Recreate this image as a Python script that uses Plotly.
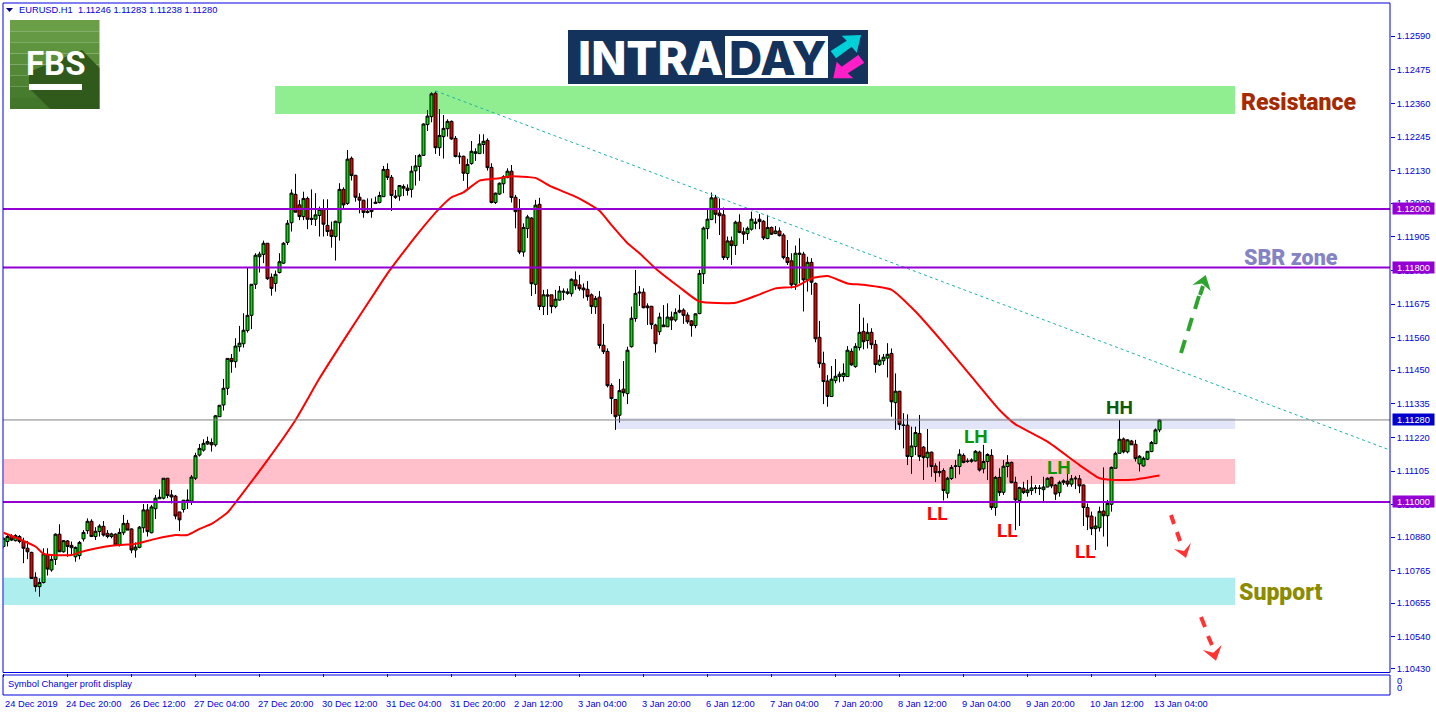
import plotly.graph_objects as go

# EURUSD H1 candles, one per bar
opens = [
    1.10848, 1.10865, 1.10882, 1.10868, 1.10882, 1.10865, 1.10842, 1.10828, 1.10743, 1.10711,
    1.10725, 1.10819, 1.10768, 1.10804, 1.10890, 1.10830, 1.10867, 1.10852, 1.10813, 1.10817,
    1.10874, 1.10902, 1.10934, 1.10882, 1.10899, 1.10917, 1.10893, 1.10882, 1.10890, 1.10853,
    1.10895, 1.10927, 1.10908, 1.10836, 1.10845, 1.10912, 1.10973, 1.10895, 1.10977, 1.11011,
    1.11013, 1.11081, 1.11024, 1.11020, 1.10966, 1.10974, 1.11003, 1.11003, 1.11081, 1.11160,
    1.11177, 1.11198, 1.11203, 1.11195, 1.11291, 1.11331, 1.11388, 1.11490, 1.11479, 1.11530,
    1.11540, 1.11585, 1.11637, 1.11743, 1.11837, 1.11845, 1.11883, 1.11767, 1.11746, 1.11783,
    1.11815, 1.11886, 1.11953, 1.12050, 1.12014, 1.11974, 1.12036, 1.11968, 1.11965, 1.11978,
    1.11999, 1.11944, 1.11928, 1.11906, 1.11953, 1.12067, 1.12019, 1.12173, 1.12115, 1.12040,
    1.12030, 1.11992, 1.11991, 1.12019, 1.12022, 1.12042, 1.12135, 1.12108, 1.12044, 1.12044,
    1.12077, 1.12071, 1.12067, 1.12130, 1.12145, 1.12183, 1.12288, 1.12315, 1.12395, 1.12209,
    1.12247, 1.12274, 1.12299, 1.12241, 1.12178, 1.12180, 1.12121, 1.12155, 1.12190, 1.12189,
    1.12220, 1.12234, 1.12142, 1.12022, 1.12051, 1.12086, 1.12107, 1.12129, 1.12040, 1.11997,
    1.11853, 1.11933, 1.11969, 1.11743, 1.12016, 1.11667, 1.11707, 1.11707, 1.11667, 1.11689,
    1.11716, 1.11712, 1.11711, 1.11758, 1.11741, 1.11730, 1.11726, 1.11707, 1.11666, 1.11699,
    1.11535, 1.11514, 1.11398, 1.11350, 1.11296, 1.11385, 1.11370, 1.11530, 1.11626, 1.11713,
    1.11716, 1.11669, 1.11668, 1.11604, 1.11581, 1.11604, 1.11598, 1.11631, 1.11621, 1.11654,
    1.11655, 1.11638, 1.11618, 1.11602, 1.11643, 1.11779, 1.11933, 1.11964, 1.12038, 1.11986,
    1.11980, 1.11834, 1.11891, 1.11875, 1.11955, 1.11922, 1.11916, 1.11931, 1.11951, 1.11965,
    1.11958, 1.11899, 1.11937, 1.11916, 1.11925, 1.11911, 1.11834, 1.11823, 1.11743, 1.11845,
    1.11846, 1.11758, 1.11818, 1.11746, 1.11562, 1.11473, 1.11413, 1.11360, 1.11414, 1.11428,
    1.11428, 1.11428, 1.11514, 1.11462, 1.11527, 1.11582, 1.11551, 1.11579, 1.11538, 1.11468,
    1.11482, 1.11491, 1.11507, 1.11339, 1.11378, 1.11263, 1.11262, 1.11155, 1.11189, 1.11234,
    1.11187, 1.11151, 1.11170, 1.11123, 1.11104, 1.11107, 1.11030, 1.11080, 1.11121, 1.11121,
    1.11159, 1.11140, 1.11139, 1.11140, 1.11170, 1.11113, 1.11138, 1.11159, 1.10981, 1.11084,
    1.11033, 1.11121, 1.11135, 1.11067, 1.11005, 1.11047, 1.11032, 1.11039, 1.11046, 1.11048,
    1.11042, 1.11051, 1.11084, 1.11058, 1.11032, 1.11067, 1.11071, 1.11061, 1.11079, 1.11079,
    1.11058, 1.10981, 1.10952, 1.10909, 1.10912, 1.10969, 1.10953, 1.10992, 1.11115, 1.11166,
    1.11215, 1.11171, 1.11208, 1.11197, 1.11130, 1.11123, 1.11146, 1.11172, 1.11199, 1.11246,
]
closes = [
    1.10876, 1.10882, 1.10870, 1.10885, 1.10865, 1.10842, 1.10830, 1.10739, 1.10711, 1.10725,
    1.10823, 1.10771, 1.10804, 1.10890, 1.10830, 1.10868, 1.10848, 1.10844, 1.10845, 1.10862,
    1.10896, 1.10934, 1.10882, 1.10900, 1.10918, 1.10887, 1.10882, 1.10891, 1.10853, 1.10896,
    1.10927, 1.10904, 1.10836, 1.10846, 1.10914, 1.10973, 1.10899, 1.10983, 1.11013, 1.11016,
    1.11081, 1.11022, 1.11017, 1.10952, 1.10939, 1.11006, 1.11006, 1.11085, 1.11158, 1.11183,
    1.11200, 1.11206, 1.11195, 1.11294, 1.11330, 1.11388, 1.11490, 1.11479, 1.11532, 1.11542,
    1.11586, 1.11637, 1.11743, 1.11842, 1.11846, 1.11883, 1.11762, 1.11729, 1.11777, 1.11820,
    1.11883, 1.11951, 1.12054, 1.11989, 1.11974, 1.12036, 1.11965, 1.11964, 1.11980, 1.11999,
    1.11948, 1.11923, 1.11906, 1.11958, 1.12067, 1.12014, 1.12170, 1.12114, 1.12040, 1.12030,
    1.11988, 1.11988, 1.11997, 1.12023, 1.12046, 1.12135, 1.12108, 1.12046, 1.12040, 1.12080,
    1.12071, 1.12063, 1.12129, 1.12147, 1.12183, 1.12290, 1.12317, 1.12393, 1.12209, 1.12251,
    1.12275, 1.12299, 1.12239, 1.12179, 1.12180, 1.12122, 1.12152, 1.12197, 1.12195, 1.12222,
    1.12231, 1.12141, 1.12022, 1.12054, 1.12088, 1.12110, 1.12129, 1.12039, 1.11991, 1.11853,
    1.11937, 1.11973, 1.11745, 1.12013, 1.11667, 1.11707, 1.11703, 1.11667, 1.11692, 1.11720,
    1.11719, 1.11717, 1.11760, 1.11738, 1.11728, 1.11724, 1.11701, 1.11667, 1.11695, 1.11534,
    1.11513, 1.11397, 1.11353, 1.11291, 1.11380, 1.11373, 1.11518, 1.11627, 1.11712, 1.11716,
    1.11663, 1.11663, 1.11606, 1.11540, 1.11631, 1.11598, 1.11631, 1.11621, 1.11647, 1.11648,
    1.11637, 1.11615, 1.11602, 1.11642, 1.11780, 1.11935, 1.11965, 1.12038, 1.11982, 1.11977,
    1.11834, 1.11891, 1.11875, 1.11955, 1.11920, 1.11914, 1.11934, 1.11965, 1.11955, 1.11957,
    1.11901, 1.11937, 1.11914, 1.11925, 1.11909, 1.11834, 1.11817, 1.11741, 1.11849, 1.11849,
    1.11758, 1.11818, 1.11750, 1.11557, 1.11472, 1.11411, 1.11360, 1.11419, 1.11429, 1.11436,
    1.11439, 1.11518, 1.11468, 1.11531, 1.11579, 1.11547, 1.11579, 1.11537, 1.11469, 1.11484,
    1.11494, 1.11504, 1.11342, 1.11378, 1.11264, 1.11261, 1.11155, 1.11191, 1.11237, 1.11155,
    1.11151, 1.11170, 1.11121, 1.11100, 1.11100, 1.11039, 1.11081, 1.11118, 1.11123, 1.11163,
    1.11135, 1.11138, 1.11143, 1.11173, 1.11109, 1.11138, 1.11162, 1.10981, 1.11084, 1.11032,
    1.11122, 1.11135, 1.11066, 1.11007, 1.11049, 1.11032, 1.11041, 1.11048, 1.11048, 1.11046,
    1.11051, 1.11081, 1.11055, 1.11027, 1.11067, 1.11072, 1.11061, 1.11079, 1.11081, 1.11055,
    1.10981, 1.10949, 1.10909, 1.10918, 1.10968, 1.10953, 1.10995, 1.11118, 1.11166, 1.11214,
    1.11171, 1.11212, 1.11195, 1.11148, 1.11156, 1.11149, 1.11173, 1.11203, 1.11246, 1.11280,
]
highs = [
    1.10880, 1.10887, 1.10890, 1.10890, 1.10887, 1.10878, 1.10867, 1.10830, 1.10760, 1.10739,
    1.10842, 1.10842, 1.10819, 1.10893, 1.10924, 1.10870, 1.10870, 1.10865, 1.10848, 1.10867,
    1.10904, 1.10944, 1.10941, 1.10914, 1.10924, 1.10935, 1.10904, 1.10895, 1.10893, 1.10910,
    1.10956, 1.10939, 1.10910, 1.10862, 1.10918, 1.10993, 1.10993, 1.10990, 1.11024, 1.11043,
    1.11081, 1.11081, 1.11041, 1.11024, 1.10966, 1.11007, 1.11043, 1.11092, 1.11168, 1.11198,
    1.11214, 1.11223, 1.11217, 1.11297, 1.11330, 1.11420, 1.11490, 1.11505, 1.11559, 1.11601,
    1.11644, 1.11801, 1.11743, 1.11849, 1.11854, 1.11892, 1.11883, 1.11780, 1.11790, 1.11849,
    1.11887, 1.11962, 1.12067, 1.12120, 1.12031, 1.12059, 1.12042, 1.12067, 1.12054, 1.12008,
    1.12033, 1.12033, 1.11957, 1.11960, 1.12088, 1.12074, 1.12201, 1.12179, 1.12116, 1.12054,
    1.12031, 1.12036, 1.12036, 1.12042, 1.12059, 1.12147, 1.12156, 1.12116, 1.12065, 1.12080,
    1.12084, 1.12084, 1.12147, 1.12184, 1.12188, 1.12292, 1.12338, 1.12398, 1.12401, 1.12341,
    1.12321, 1.12306, 1.12302, 1.12249, 1.12193, 1.12182, 1.12171, 1.12232, 1.12207, 1.12255,
    1.12255, 1.12241, 1.12156, 1.12056, 1.12090, 1.12115, 1.12139, 1.12150, 1.12048, 1.12034,
    1.11951, 1.11980, 1.11972, 1.12031, 1.12038, 1.11724, 1.11726, 1.11707, 1.11724, 1.11737,
    1.11729, 1.11729, 1.11763, 1.11787, 1.11775, 1.11746, 1.11754, 1.11712, 1.11703, 1.11720,
    1.11608, 1.11524, 1.11405, 1.11350, 1.11420, 1.11481, 1.11530, 1.11667, 1.11792, 1.11737,
    1.11729, 1.11678, 1.11669, 1.11608, 1.11646, 1.11672, 1.11678, 1.11650, 1.11661, 1.11707,
    1.11661, 1.11647, 1.11621, 1.11644, 1.11792, 1.11940, 1.12002, 1.12056, 1.12048, 1.12036,
    1.12005, 1.11906, 1.11906, 1.11960, 1.11982, 1.11937, 1.11940, 1.11991, 1.11968, 1.11983,
    1.11962, 1.11980, 1.11940, 1.11942, 1.11937, 1.11917, 1.11894, 1.11849, 1.11875, 1.11900,
    1.11854, 1.11837, 1.11832, 1.11749, 1.11618, 1.11513, 1.11433, 1.11464, 1.11488, 1.11445,
    1.11473, 1.11532, 1.11524, 1.11542, 1.11676, 1.11629, 1.11610, 1.11593, 1.11553, 1.11502,
    1.11505, 1.11542, 1.11524, 1.11439, 1.11379, 1.11303, 1.11299, 1.11257, 1.11257, 1.11297,
    1.11191, 1.11249, 1.11172, 1.11132, 1.11138, 1.11115, 1.11086, 1.11126, 1.11143, 1.11180,
    1.11166, 1.11149, 1.11149, 1.11177, 1.11175, 1.11195, 1.11166, 1.11180, 1.11089, 1.11115,
    1.11143, 1.11160, 1.11138, 1.11086, 1.11052, 1.11069, 1.11075, 1.11089, 1.11058, 1.11058,
    1.11086, 1.11084, 1.11086, 1.11061, 1.11073, 1.11077, 1.11098, 1.11092, 1.11089, 1.11092,
    1.11060, 1.10995, 1.10967, 1.10950, 1.10984, 1.11118, 1.11007, 1.11121, 1.11172, 1.11280,
    1.11220, 1.11214, 1.11212, 1.11212, 1.11160, 1.11155, 1.11174, 1.11208, 1.11251, 1.11283,
]
lows = [
    1.10842, 1.10848, 1.10867, 1.10865, 1.10859, 1.10791, 1.10805, 1.10739, 1.10694, 1.10677,
    1.10722, 1.10749, 1.10762, 1.10785, 1.10830, 1.10827, 1.10813, 1.10819, 1.10796, 1.10804,
    1.10865, 1.10891, 1.10882, 1.10870, 1.10882, 1.10882, 1.10876, 1.10876, 1.10850, 1.10848,
    1.10887, 1.10904, 1.10825, 1.10810, 1.10842, 1.10895, 1.10882, 1.10893, 1.10942, 1.11011,
    1.11009, 1.11013, 1.10995, 1.10941, 1.10901, 1.10964, 1.10976, 1.10990, 1.11075, 1.11155,
    1.11172, 1.11195, 1.11172, 1.11189, 1.11291, 1.11312, 1.11365, 1.11441, 1.11458, 1.11513,
    1.11527, 1.11578, 1.11590, 1.11727, 1.11783, 1.11815, 1.11758, 1.11704, 1.11718, 1.11780,
    1.11812, 1.11877, 1.11923, 1.11989, 1.11962, 1.11962, 1.11931, 1.11945, 1.11942, 1.11906,
    1.11906, 1.11908, 1.11868, 1.11824, 1.11892, 1.11997, 1.12014, 1.12097, 1.12025, 1.11985,
    1.11970, 1.11985, 1.11970, 1.12017, 1.12019, 1.12042, 1.12099, 1.11993, 1.12034, 1.12028,
    1.12044, 1.12046, 1.12039, 1.12080, 1.12096, 1.12181, 1.12266, 1.12296, 1.12188, 1.12181,
    1.12172, 1.12247, 1.12236, 1.12176, 1.12154, 1.12096, 1.12068, 1.12151, 1.12164, 1.12188,
    1.12188, 1.12131, 1.12019, 1.12017, 1.12048, 1.12054, 1.12105, 1.12022, 1.11934, 1.11846,
    1.11837, 1.11901, 1.11703, 1.11710, 1.11655, 1.11638, 1.11638, 1.11644, 1.11661, 1.11687,
    1.11689, 1.11707, 1.11701, 1.11724, 1.11721, 1.11695, 1.11687, 1.11642, 1.11642, 1.11524,
    1.11505, 1.11391, 1.11300, 1.11246, 1.11271, 1.11360, 1.11334, 1.11527, 1.11615, 1.11669,
    1.11661, 1.11604, 1.11590, 1.11510, 1.11570, 1.11598, 1.11598, 1.11587, 1.11615, 1.11644,
    1.11608, 1.11608, 1.11564, 1.11593, 1.11641, 1.11744, 1.11897, 1.11962, 1.11951, 1.11911,
    1.11826, 1.11826, 1.11809, 1.11843, 1.11917, 1.11881, 1.11894, 1.11926, 1.11931, 1.11931,
    1.11894, 1.11897, 1.11911, 1.11914, 1.11906, 1.11828, 1.11809, 1.11729, 1.11724, 1.11746,
    1.11650, 1.11718, 1.11707, 1.11545, 1.11458, 1.11334, 1.11325, 1.11360, 1.11405, 1.11408,
    1.11411, 1.11428, 1.11465, 1.11458, 1.11517, 1.11521, 1.11524, 1.11522, 1.11441, 1.11464,
    1.11468, 1.11425, 1.11291, 1.11246, 1.11246, 1.11183, 1.11126, 1.11096, 1.11160, 1.11140,
    1.11075, 1.11118, 1.11086, 1.11069, 1.11086, 1.11005, 1.11013, 1.11075, 1.11081, 1.11094,
    1.11132, 1.11134, 1.11134, 1.11138, 1.11104, 1.11098, 1.11075, 1.10973, 1.10953, 1.11020,
    1.11024, 1.11084, 1.11064, 1.10904, 1.10918, 1.11027, 1.11018, 1.11024, 1.11030, 1.11024,
    1.11003, 1.11050, 1.11047, 1.11007, 1.11018, 1.11058, 1.11052, 1.11052, 1.11044, 1.11030,
    1.10918, 1.10904, 1.10887, 1.10836, 1.10899, 1.10882, 1.10848, 1.10967, 1.11115, 1.11166,
    1.11166, 1.11166, 1.11195, 1.11138, 1.11104, 1.11121, 1.11143, 1.11170, 1.11198, 1.11238,
]

# moving average, sampled where it could be read
ma_bars = [0, 4, 8, 10, 12, 17, 19, 23, 28, 33, 38, 43, 46, 49, 52, 56, 59, 66, 73, 79, 86, 93, 96,
           101, 104, 109, 112, 115, 119, 122, 124, 127, 131, 133, 137, 142, 145, 149, 152, 156, 159,
           163, 169, 174, 183, 188, 193, 198, 202, 206, 211, 215, 222, 228, 235, 242, 249, 253, 261,
           269, 274, 278, 283, 289]
ma_values = [1.10895, 1.10873, 1.10848, 1.10823, 1.10819, 1.10819, 1.10828, 1.10841, 1.10852, 1.10857,
             1.10874, 1.10887, 1.10887, 1.10908, 1.10925, 1.10964, 1.11016, 1.11143, 1.11280, 1.11422,
             1.11572, 1.11718, 1.11780, 1.11871, 1.11923, 1.12002, 1.12040, 1.12057, 1.12097, 1.12102,
             1.12105, 1.12112, 1.12109, 1.12106, 1.12076, 1.12048, 1.12028, 1.11994, 1.11945, 1.11883,
             1.11849, 1.11797, 1.11733, 1.11684, 1.11680, 1.11703, 1.11729, 1.11735, 1.11763, 1.11771,
             1.11746, 1.11741, 1.11724, 1.11650, 1.11542, 1.11428, 1.11314, 1.11265, 1.11206, 1.11126,
             1.11081, 1.11075, 1.11077, 1.11090]

price_ticks = [1.12590, 1.12475, 1.12360, 1.12245, 1.12130, 1.12020, 1.11905, 1.11790, 1.11675, 1.11560,
               1.11450, 1.11335, 1.11220, 1.11105, 1.10990, 1.10880, 1.10765, 1.10655, 1.10540, 1.10430]
time_labels = ['24 Dec 2019', '24 Dec 20:00', '26 Dec 12:00', '27 Dec 04:00', '27 Dec 20:00', '30 Dec 12:00',
               '31 Dec 04:00', '31 Dec 20:00', '2 Jan 12:00', '3 Jan 04:00', '3 Jan 20:00', '6 Jan 12:00',
               '7 Jan 04:00', '7 Jan 20:00', '8 Jan 12:00', '9 Jan 04:00', '9 Jan 20:00', '10 Jan 12:00',
               '13 Jan 04:00']
time_bars = [16 * k for k in range(len(time_labels))]

level_prices = [1.12000, 1.11800, 1.11000]
last_price = 1.11280
trend_bars = [108, 346.625]
trend_prices = [1.12403, 1.11177]

BLUE = '#0000e0'
AXIS_FONT = dict(family='Liberation Sans', size=9.3, color=BLUE)
PURPLE = '#9400d3'


# pixel position on the page to paper coordinates
def px(x):
    return (x - 3) / 1387


def py(y):
    return (695 - y) / 692


def poly(points, color):
    d = 'M' + ' L'.join(f'{px(x):.5f},{py(y):.5f}' for x, y in points) + ' Z'
    return dict(type='path', xref='paper', yref='paper', path=d, fillcolor=color, line_width=0)


def box(x0, y0, x1, y1, color):
    return dict(type='rect', xref='paper', yref='paper', x0=px(x0), x1=px(x1), y0=py(y1), y1=py(y0),
                fillcolor=color, line_width=0)


def dash(x0, y0, x1, y1, color):
    return dict(type='line', xref='paper', yref='paper', x0=px(x0), x1=px(x1), y0=py(y0), y1=py(y1),
                line=dict(color=color, width=4))


def label(x, y, text, color, size, family='Roboto', anchor='center', weight='normal', bg=None):
    return dict(x=px(x), y=py(y), xref='paper', yref='paper', text=text, showarrow=False, xanchor=anchor,
                yanchor='middle', font=dict(family=family, size=size, color=color, weight=weight),
                bgcolor=bg, borderpad=0)


fig = go.Figure()
fig.add_trace(go.Candlestick(
    x=list(range(len(opens))), open=opens, high=highs, low=lows, close=closes,
    increasing=dict(line=dict(color='black', width=1), fillcolor='#00e000'),
    decreasing=dict(line=dict(color='black', width=1), fillcolor='#e80000'),
    whiskerwidth=0, hoverinfo='skip', showlegend=False))
fig.add_trace(go.Scatter(x=ma_bars, y=ma_values, mode='lines', hoverinfo='skip', showlegend=False,
                         line=dict(color='#ff0000', width=2, shape='spline', smoothing=0.5)))
fig.add_trace(go.Scatter(x=trend_bars, y=trend_prices, mode='lines', hoverinfo='skip', showlegend=False,
                         line=dict(color='#20b2aa', width=1, dash='3px,3px')))

shapes = []
# zones sit behind the candles
for x0, x1, y0, y1, color in [(67.9, 307.9, 1.12324, 1.12420, '#90ee90'),
                              (152.9, 307.9, 1.11249, 1.11287, '#e3e5f8'),
                              (0, 307.9, 1.11061, 1.11147, '#ffc0cb'),
                              (0, 307.9, 1.10648, 1.10741, '#afeeee')]:
    shapes.append(dict(type='rect', xref='x', yref='y', x0=x0, x1=x1, y0=y0, y1=y1,
                       fillcolor=color, line_width=0, layer='below'))
for price in level_prices:
    shapes.append(dict(type='line', xref='paper', yref='y', x0=0, x1=1, y0=price, y1=price,
                       line=dict(color=PURPLE, width=2)))
shapes.append(dict(type='line', xref='paper', yref='y', x0=0, x1=1, y0=last_price, y1=last_price,
                   line=dict(color='#808080', width=1)))

# window frames
shapes.append(dict(type='rect', xref='paper', yref='paper', x0=0, x1=1, y0=py(672.5), y1=1,
                   line=dict(color=BLUE, width=1)))
shapes.append(dict(type='rect', xref='paper', yref='paper', x0=0, x1=1, y0=0, y1=py(675),
                   line=dict(color=BLUE, width=1)))
shapes.append(poly([(6, 8), (13, 8), (9.5, 12)], '#000080'))

# FBS logo
for k, color in enumerate(['#6a9e47', '#659943', '#5f943f', '#598e3b', '#538837', '#4d8233', '#477c2f', '#42762b']):
    shapes.append(box(10, 20 + k * 11.125, 99.5, 20 + (k + 1) * 11.125, color))
shapes.append(poly([(82, 50), (99.5, 68), (99.5, 109), (50, 109), (29, 88), (29, 72)], '#2f5a1c'))
shapes.append(box(29, 84, 82, 90, 'white'))

# INTRADAY logo
shapes.append(box(568, 30, 868, 84, '#14335c'))
shapes.append(box(725, 36, 828, 78, 'white'))
shapes.append(poly([(830.7, 51), (846.7, 40.7), (841.7, 35.7), (861, 35), (856.7, 52.7), (851.7, 46.7), (836, 58.3)],
                   '#00d0d8'))
shapes.append(poly([(833.3, 78.3), (836.7, 61.7), (841.7, 66.7), (858.3, 55), (864.3, 62.7), (847.7, 73.3),
                    (853.3, 78.3)], '#ff1fc8'))

# dashed arrows
shapes += [dash(1181, 353, 1185, 340, '#2ea42e'), dash(1188, 331, 1192, 318, '#2ea42e'),
           dash(1195, 309, 1199, 296, '#2ea42e'), dash(1200, 295, 1203, 286, '#2ea42e'),
           poly([(1205.7, 275), (1192.3, 285), (1202, 283.5), (1210.7, 291)], '#2ea42e')]
shapes += [dash(1171, 515, 1174, 524, '#ff3333'), dash(1177, 532, 1180, 541, '#ff3333'),
           poly([(1186, 558), (1174, 549), (1184, 551), (1191, 542.7)], '#ff3333')]
shapes += [dash(1201, 617, 1205, 627, '#ff3333'), dash(1208, 636, 1212, 645, '#ff3333'),
           poly([(1202.7, 650), (1213.3, 652.7), (1221.7, 645), (1216, 660.7)], '#ff3333')]

annotations = [
    label(18, 10, 'EURUSD.H1\u00a0\u00a01.11246 1.11283 1.11238 1.11280', BLUE, 9.3, 'Liberation Sans', 'left'),
    label(7, 683.5, 'Symbol Changer profit display', BLUE, 9.3, 'Liberation Sans', 'left'),
    label(1396, 681, '0', BLUE, 9.3, 'Liberation Sans', 'left'),
    label(1396, 688, '0', BLUE, 9.3, 'Liberation Sans', 'left'),
    label(55.5, 64, 'FBS', 'white', 33, 'Roboto', weight='bold'),
    label(650, 58, 'INTRA', 'white', 46, 'Inter', weight=800),
    label(777, 58, 'DAY', '#14335c', 46, 'Inter', weight=800),
    label(1240, 102, 'Resistance', '#a52a00', 23, weight=900, anchor='left'),
    label(1243, 257, 'SBR zone', '#8484c4', 21.5, weight=900, anchor='left'),
    label(1238, 592, 'Support', '#8b8b00', 23, weight=900, anchor='left'),
]
for x, y in [(937, 513), (1007, 530), (1085, 551)]:
    annotations.append(label(x, y, 'LL', '#ff0000', 19, 'Roboto', weight='bold'))
for x, y in [(976, 436), (1059, 467)]:
    annotations.append(label(x, y, 'LH', '#0a960a', 19, 'Roboto', weight='bold'))
annotations.append(label(1119, 408, 'HH', '#0b5b0b', 19, 'Roboto', weight='bold'))

# time labels start at their tick, as the terminal draws them
for bar, text in zip(time_bars, time_labels):
    annotations.append(dict(x=max(bar - 0.6, 0), y=py(703.5), xref='x', yref='paper', text=text, showarrow=False,
                            xanchor='left', yanchor='middle', borderpad=0, font=AXIS_FONT))

# price flags on the right axis
for price, color in [(1.12000, PURPLE), (1.11800, PURPLE), (1.11000, PURPLE), (last_price, '#0000cd')]:
    annotations.append(dict(x=px(1392), y=price, xref='paper', yref='y', text=f'{price:.5f}', showarrow=False,
                            xanchor='left', yanchor='middle', bgcolor=color, width=41, height=11, borderpad=0,
                            font=dict(family='Liberation Sans', size=9.3, color='white')))

fig.update_layout(
    width=1436, height=716, margin=dict(l=3, r=46, t=3, b=21, pad=0),
    paper_bgcolor='white', plot_bgcolor='white', showlegend=False, hovermode=False,
    boxgap=0.25, boxgroupgap=0,
    shapes=shapes, annotations=annotations,
    # half-pixel domain start keeps the wicks on whole pixels
    xaxis=dict(domain=[0.5 / 1387, 1], range=[0, 346.625], anchor='y2', rangeslider=dict(visible=False),
               showgrid=False, zeroline=False, tickmode='array', tickvals=time_bars, showticklabels=False,
               ticks='outside', ticklen=3, tickcolor=BLUE, automargin=False),
    yaxis=dict(domain=[py(672.5), 1], range=[1.10418, 1.12703], side='right', showgrid=False, zeroline=False,
               tickmode='array', tickvals=price_ticks, ticktext=[f'{p:.5f}' for p in price_ticks],
               ticks='outside', ticklen=4, tickcolor=BLUE, tickfont=AXIS_FONT, automargin=False),
    yaxis2=dict(domain=[0, py(675)], range=[0, 20], side='right', showgrid=False, zeroline=False,
                showticklabels=False, ticks='', automargin=False),
)

fig.write_html("out.html", config=dict(displayModeBar=False),
               post_script="document.body.style.margin='0';")
